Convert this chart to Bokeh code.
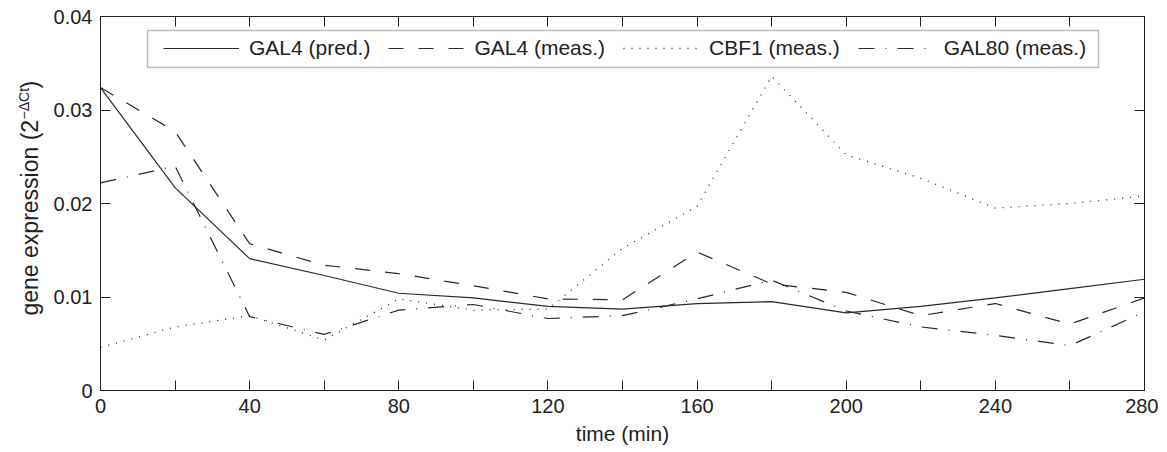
import math
from bokeh.plotting import figure
from bokeh.layouts import row
from bokeh.models import (LinearAxis, FixedTicker, Range1d, Legend, LegendItem,
                          BoxAnnotation, Label)
from bokeh.embed import file_html
from bokeh.resources import INLINE

# ---- data ----
time_min = [0, 20, 40, 60, 80, 100, 120, 140, 160, 180, 200, 220, 240, 260, 280]
gal4_pred = [0.0324, 0.0217, 0.0141, 0.0123, 0.0104, 0.0099, 0.0090, 0.0087,
             0.0093, 0.0095, 0.0083, 0.0090, 0.0099, 0.0109, 0.0119]
gal4_meas = [0.0324, 0.0277, 0.0157, 0.0134, 0.0125, 0.0112, 0.0098, 0.0097,
             0.0148, 0.0114, 0.0105, 0.0080, 0.0093, 0.0071, 0.0099]
cbf1_meas = [0.0046, 0.0068, 0.0080, 0.0054, 0.0098, 0.0086, 0.0087, 0.0152,
             0.0197, 0.0336, 0.0252, 0.0227, 0.0195, 0.0200, 0.0208]
gal80_meas = [0.0222, 0.0240, 0.0079, 0.0060, 0.0086, 0.0092, 0.0077, 0.0080,
              0.0098, 0.0118, 0.0085, 0.0068, 0.0059, 0.0048, 0.0084]

series_labels = ["GAL4 (pred.)", "GAL4 (meas.)", "CBF1 (meas.)", "GAL80 (meas.)"]
x_major = [0, 40, 80, 120, 160, 200, 240, 280]
x_minor = [20, 60, 100, 140, 180, 220, 260]
y_ticks = [0, 0.01, 0.02, 0.03, 0.04]
y_tick_labels = ["0", "0.01", "0.02", "0.03", "0.04"]
x_title = "time (min)"
y_title_parts = ["gene expression (2", "\u2212\u0394Ct", ")"]

FONT = "Liberation Sans"
INK = "#222222"
LINE = "#2a2a2a"
H = 450
LEFT_W = 50

# ---- main plot ----
p = figure(width=1158 - LEFT_W, height=H, output_backend="svg", toolbar_location=None,
           x_range=Range1d(0, 280), y_range=Range1d(0, 0.04),
           min_border_left=100 - LEFT_W, min_border_right=14, min_border_top=16,
           min_border_bottom=60, x_axis_location=None, y_axis_location=None,
           frame_align=False)
p.grid.visible = False
p.outline_line_color = INK
p.outline_line_width = 1
p.background_fill_color = "white"
p.border_fill_color = "white"


def style_axis(ax, ticks, show_labels):
    ax.axis_line_color = INK
    ax.axis_line_width = 1
    ax.major_tick_line_color = INK
    ax.minor_tick_line_color = INK
    ax.major_tick_in = 10
    ax.major_tick_out = 0
    ax.minor_tick_in = 10
    ax.minor_tick_out = 0
    ax.major_label_text_font = FONT
    ax.major_label_text_font_size = "20px"
    ax.major_label_text_color = INK
    if show_labels:
        ax.major_label_standoff = 8
    else:
        ax.major_label_overrides = {t: "" for t in ticks}
        ax.major_label_standoff = 0


xb = LinearAxis(ticker=FixedTicker(ticks=x_major, minor_ticks=x_minor))
style_axis(xb, x_major, True)
xb.axis_label = x_title
xb.axis_label_text_font = FONT
xb.axis_label_text_font_size = "21px"
xb.axis_label_text_font_style = "normal"
xb.axis_label_text_color = INK
xb.axis_label_standoff = 6
xt = LinearAxis(ticker=FixedTicker(ticks=x_major, minor_ticks=x_minor))
style_axis(xt, x_major, False)
yl = LinearAxis(ticker=FixedTicker(ticks=y_ticks, minor_ticks=[]),
                major_label_overrides={t: s for t, s in zip(y_ticks, y_tick_labels)})
style_axis(yl, y_ticks, True)
yr = LinearAxis(ticker=FixedTicker(ticks=y_ticks, minor_ticks=[]))
style_axis(yr, y_ticks, False)
p.add_layout(xb, "below")
p.add_layout(xt, "above")
p.add_layout(yl, "left")
p.add_layout(yr, "right")

r1 = p.line(time_min, gal4_pred, line_color=LINE, line_width=1.2)
r2 = p.line(time_min, gal4_meas, line_color=LINE, line_width=1.2, line_dash="15 15")
r3 = p.line(time_min, cbf1_meas, line_color=LINE, line_width=1.3, line_dash="1 7")
r4 = p.line(time_min, gal80_meas, line_color=LINE, line_width=1.2, line_dash="16 11 1 11")

# legend frame
box = BoxAnnotation(left=47, right=998, bottom=323, top=360,
                    left_units="screen", right_units="screen",
                    top_units="screen", bottom_units="screen",
                    fill_color="white", fill_alpha=1.0,
                    line_color=INK, line_width=1.5)
p.add_layout(box)

legend = Legend(items=[LegendItem(label=series_labels[0], renderers=[r1]),
                       LegendItem(label=series_labels[1], renderers=[r2]),
                       LegendItem(label=series_labels[2], renderers=[r3]),
                       LegendItem(label=series_labels[3], renderers=[r4])],
                orientation="horizontal", location=(63, 330),
                glyph_width=76, glyph_height=20, label_height=20,
                label_standoff=10, spacing=18, padding=0, margin=0,
                border_line_alpha=0, background_fill_alpha=0,
                label_text_font=FONT, label_text_font_size="21px",
                label_text_color=INK, label_text_baseline="middle")
p.add_layout(legend)

# ---- left strip holding the rotated y-axis title (pixel coordinates) ----
lf = figure(width=LEFT_W, height=H, output_backend="svg", toolbar_location=None,
            x_range=Range1d(0, LEFT_W), y_range=Range1d(0, H), min_border=0,
            x_axis_location=None, y_axis_location=None, frame_align=False)
lf.grid.visible = False
lf.outline_line_color = None
lf.background_fill_color = "white"
lf.border_fill_color = "white"

lf.add_layout(Label(x=29, y=H - 315, text=y_title_parts[0], angle=math.pi / 2,
                    text_font=FONT, text_font_size="23px", text_color=INK,
                    text_align="left", text_baseline="alphabetic"))
lf.add_layout(Label(x=23, y=H - 119, text=y_title_parts[1], angle=math.pi / 2,
                    text_font=FONT, text_font_size="14px", text_color=INK,
                    text_align="left", text_baseline="alphabetic"))
lf.add_layout(Label(x=29, y=H - 88, text=y_title_parts[2], angle=math.pi / 2,
                    text_font=FONT, text_font_size="23px", text_color=INK,
                    text_align="left", text_baseline="alphabetic"))

layout = row(lf, p)
open("out.html", "w").write(file_html(layout, INLINE))
